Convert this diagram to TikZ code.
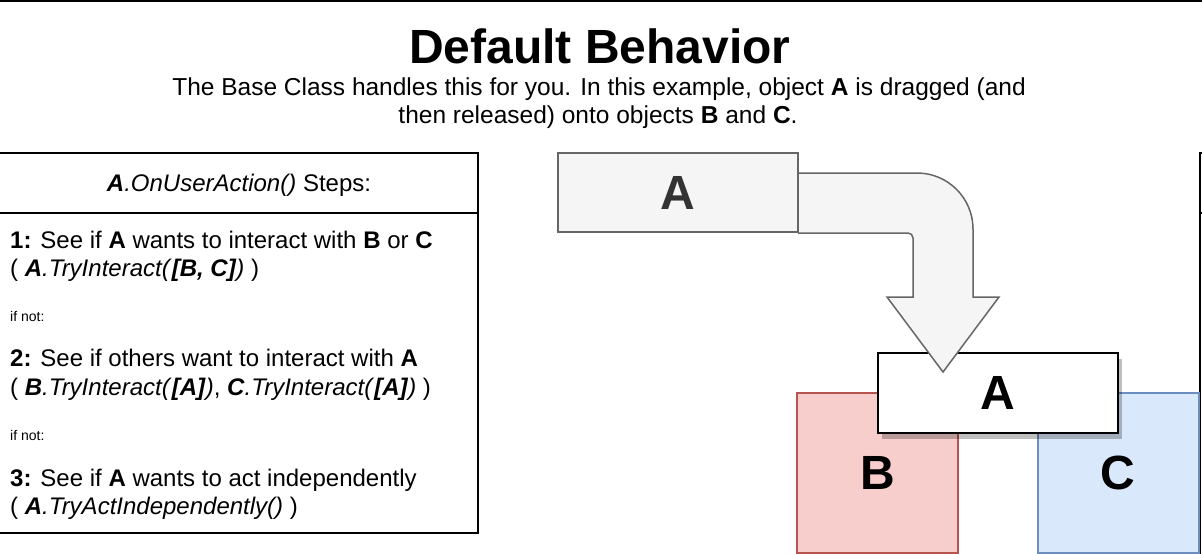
\documentclass[tikz,border=0pt]{standalone}
\usepackage{fontspec}
\setmainfont{Liberation Sans}
\usetikzlibrary{shadows}
\definecolor{ghostfill}{HTML}{F5F5F5}
\definecolor{ghostline}{HTML}{666666}
\definecolor{ghosttext}{HTML}{333333}
\definecolor{redfill}{HTML}{F8CECC}
\definecolor{redline}{HTML}{B85450}
\definecolor{bluefill}{HTML}{DAE8FC}
\definecolor{blueline}{HTML}{6C8EBF}
\newcommand{\obj}[1]{\textbf{\textit{#1}}}

\begin{document}
\begin{tikzpicture}[x=1pt, y=-1pt,
  objbox/.style={draw, line width=2pt, inner sep=0pt, minimum width=161pt, minimum height=160pt,
    font=\fontsize{48}{48}\selectfont\bfseries},
  movebox/.style={draw, inner sep=0pt, minimum width=240pt, minimum height=80pt,
    font=\fontsize{48}{48}\selectfont\bfseries},
  steptext/.style={anchor=base west, inner sep=0pt, font=\fontsize{24}{28}\selectfont},
  smalltext/.style={anchor=base west, inner sep=0pt, font=\fontsize{14}{14}\selectfont},
  frame/.style={draw, line width=2pt},
]
  \useasboundingbox (0,0) rectangle (1202,554);

  % Title
  \draw[frame] (-2,1) -- (1204,1);
  \node[anchor=base, inner sep=0pt, font=\fontsize{48}{48}\selectfont\bfseries] (title) at (600,63) {Default Behavior};
  \node[anchor=base, inner sep=0pt, font=\fontsize{24.5}{28}\selectfont] (subA) at (599,95.5)
    {The Base Class handles this for you. In this example, object \textbf{A} is dragged (and};
  \node[anchor=base, inner sep=0pt, font=\fontsize{24.5}{28}\selectfont] (subB) at (598,123.5)
    {then released) onto objects \textbf{B} and \textbf{C}.};

  % Steps table
  \node[frame, minimum width=480pt, minimum height=380pt, inner sep=0pt] (steps) at (238,343) {};
  \draw[frame] (steps.west |- 0,213) -- (steps.east |- 0,213);
  \node[anchor=base, inner sep=0pt, font=\fontsize{24}{28}\selectfont] (head) at (239,191.5)
    {\obj{A}\textit{.OnUserAction()} Steps:};
  \node[steptext] (step1) at (10,248.5) {\textbf{1:} See if \textbf{A} wants to interact with \textbf{B} or \textbf{C}};
  \node[steptext] (call1) at (10,276.5) {( \obj{A}\textit{.TryInteract(}\obj{[B, C]}\textit{)} )};
  \node[smalltext] (ifnot1) at (10,321) {if not:};
  \node[steptext] (step2) at (10,366.5) {\textbf{2:} See if others want to interact with \textbf{A}};
  \node[steptext] (call2) at (10,395.5)
    {( \obj{B}\textit{.TryInteract(}\obj{[A]}\textit{)}, \obj{C}\textit{.TryInteract(}\obj{[A]}\textit{)} )};
  \node[smalltext] (ifnot2) at (10,440) {if not:};
  \node[steptext] (step3) at (10,486.5) {\textbf{3:} See if \textbf{A} wants to act independently};
  \node[steptext] (call3) at (10,514.5) {( \obj{A}\textit{.TryActIndependently()} )};

  % Next table, cut off at the edge
  \draw[frame] (1204,153) -- (1200,153) -- (1200,556);
  \draw[frame] (1200,213) -- (1204,213);

  % Drop targets
  \node[objbox, fill=redfill, draw=redline] (objB) at (877.5,473) {B};
  \node[objbox, fill=bluefill, draw=blueline] (objC) at (1118,473) {C};

  % Dropped object
  \node[movebox, line width=2pt, fill=white,
    drop shadow={shadow xshift=4pt, shadow yshift=-6pt, opacity=0.25, fill=black}] (target) at (998,393) {A};

  % Drag arrow
  \filldraw[fill=ghostfill, draw=ghostline, line width=1.5pt, line join=miter]
    (798,173) -- (917,173) arc[start angle=-90, end angle=0, radius=56]
    -- (973,297) -- (999,297) -- (943,372) -- (887,297) -- (913,297)
    -- (913,238) arc[start angle=0, end angle=-90, radius=5] -- (798,233);

  % Dragged object
  \node[movebox, line width=1.5pt, fill=ghostfill, draw=ghostline, text=ghosttext,
    minimum height=79pt] (ghost) at (678,192.5) {A};
\end{tikzpicture}
\end{document}
